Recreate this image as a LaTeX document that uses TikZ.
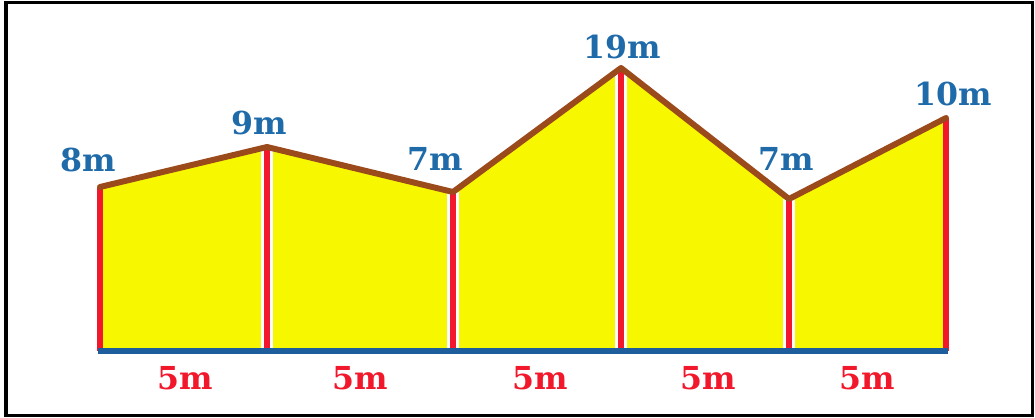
\documentclass[tikz,border=0pt]{standalone}
\usepackage{fontspec}
\setmainfont{DejaVu Serif}
\usetikzlibrary{positioning}
\definecolor{plotyellow}{HTML}{F7F700}
\definecolor{roofbrown}{HTML}{9B4A1C}
\definecolor{postred}{HTML}{F2182B}
\definecolor{lblblue}{HTML}{1F6BAA}
\definecolor{groundblue}{HTML}{1F5E9C}

\begin{document}
\begin{tikzpicture}[x=0.02cm,y=-0.02cm,
      post/.style={line width=3.3pt,draw=postred},
      halo/.style={line width=6.4pt,draw=white},
      roof/.style={line width=3.4pt,draw=roofbrown,line join=round,line cap=round},
      ground/.style={line width=3.4pt,draw=groundblue},
      hgtlbl/.style={text=lblblue,font=\fontsize{18}{20}\selectfont\bfseries},
      widthlbl/.style={text=postred,font=\fontsize{18}{20}\selectfont\bfseries}]
    \useasboundingbox (0,0) rectangle (1035,418);
    \draw[line width=2.2pt] (6,2.5) rectangle (1032.5,415.5);
    % corners of the plot
    \coordinate (b1) at (100,351); \coordinate (t1) at (100,187);
    \coordinate (b2) at (267,351); \coordinate (t2) at (267,147);
    \coordinate (b3) at (453,351); \coordinate (t3) at (453,192);
    \coordinate (b4) at (621,351); \coordinate (t4) at (621,68);
    \coordinate (b5) at (789,351); \coordinate (t5) at (789,199);
    \coordinate (b6) at (946,351); \coordinate (t6) at (946,118);
    \fill[plotyellow] (b1) -- (t1) -- (t2) -- (t3) -- (t4) -- (t5) -- (t6) -- (b6) -- cycle;
    \foreach \i in {2,...,5}
      \draw[halo] (b\i) -- (t\i);
    \foreach \i in {1,...,6}
      \draw[post] (b\i) -- (t\i);
    \draw[roof] (t1) -- (t2) -- (t3) -- (t4) -- (t5) -- (t6);
    \draw[ground] ([xshift=-0.04cm]b1) -- ([xshift=0.04cm]b6);
    % heights
    \node[hgtlbl] (h1) at (88,160) {8m};
    \node[hgtlbl] (h2) at (259,123) {9m};
    \node[hgtlbl] (h3) at (435,159) {7m};
    \node[hgtlbl] (h4) at (622,47) {19m};
    \node[hgtlbl] (h5) at (786,159) {7m};
    \node[hgtlbl] (h6) at (953,94) {10m};
    % widths
    \node[widthlbl] (w1) at (185,378) {5m};
    \node[widthlbl] (w2) at (360,378) {5m};
    \node[widthlbl] (w3) at (540,378) {5m};
    \node[widthlbl] (w4) at (708,378) {5m};
    \node[widthlbl] (w5) at (867,378) {5m};
  \end{tikzpicture}
\end{document}
